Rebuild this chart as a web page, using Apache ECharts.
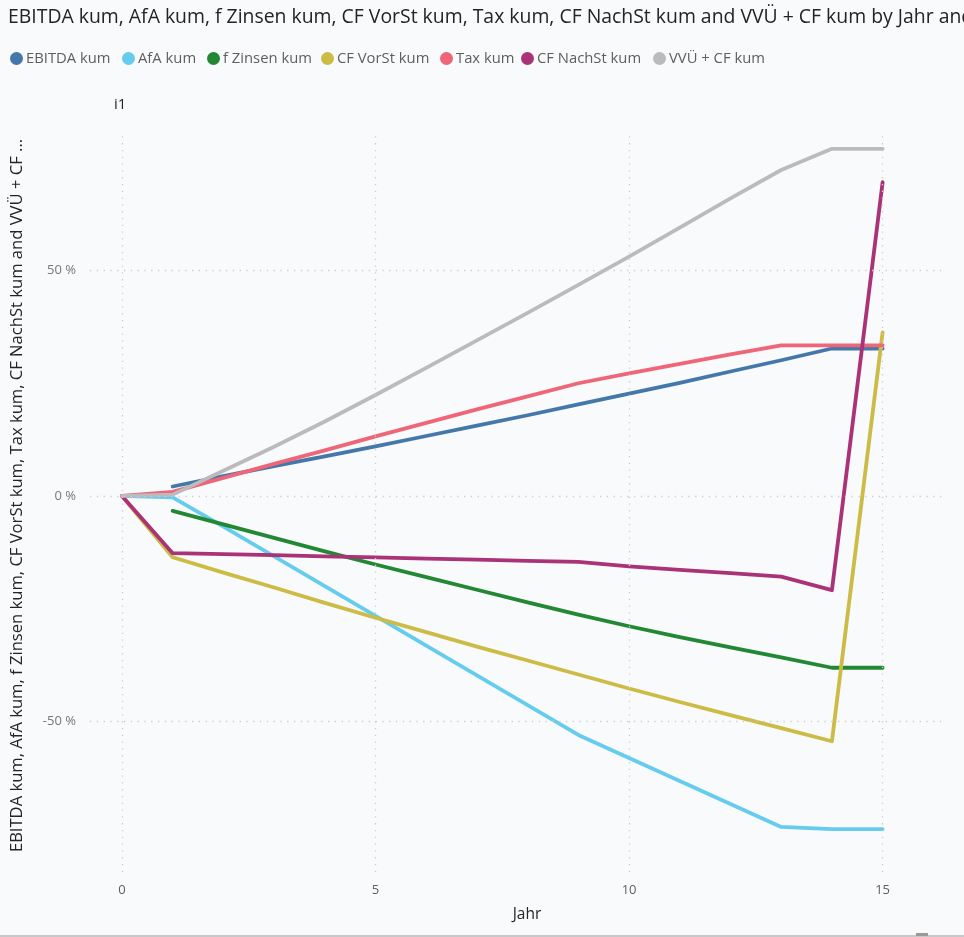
<!DOCTYPE html>
<html>
<head>
<meta charset="utf-8">
<script src="https://cdn.jsdelivr.net/npm/echarts@6/dist/echarts.min.js"></script>
<style>
  html, body { margin: 0; padding: 0; background: #F9FAFC; }
  #chart { width: 964px; height: 937px; }
</style>
</head>
<body>
<div id="chart"></div>
<script>
// ---- data ----
const years = [0, 1, 2, 3, 4, 5, 6, 7, 8, 9, 10, 11, 12, 13, 14, 15];
const seriesNames = ['EBITDA kum', 'AfA kum', 'f Zinsen kum', 'CF VorSt kum', 'Tax kum', 'CF NachSt kum', 'VVÜ + CF kum'];
const ebitda = [null, 2.1, 4.4, 6.6, 8.8, 11.0, 13.3, 15.6, 17.9, 20.3, 22.7, 25.1, 27.6, 30.1, 32.7, 32.7];
const afa    = [0, -0.3, -6.8, -13.4, -20.0, -26.6, -33.2, -39.8, -46.4, -53.0, -58.1, -63.2, -68.3, -73.4, -73.9, -73.9];
const zinsen = [null, -3.3, -6.3, -9.3, -12.3, -15.2, -18.0, -20.8, -23.6, -26.3, -28.9, -31.3, -33.6, -35.8, -38.1, -38.1];
const vorst  = [0, -13.6, -17.0, -20.3, -23.7, -27.0, -30.2, -33.4, -36.5, -39.6, -42.7, -45.7, -48.6, -51.5, -54.4, 36.3];
const tax    = [0, 0.9, 4.0, 7.1, 10.1, 13.2, 16.2, 19.2, 22.1, 25.0, 27.2, 29.3, 31.4, 33.4, 33.4, 33.4];
const nachst = [0, -12.7, -12.9, -13.1, -13.4, -13.6, -13.9, -14.1, -14.4, -14.6, -15.6, -16.4, -17.1, -17.9, -20.9, 69.6];
const vvue   = [0, 0.3, 5.6, 10.9, 16.5, 22.4, 28.4, 34.5, 40.6, 46.8, 53.1, 59.5, 66.0, 72.3, 77.0, 77.0];
const xTicks = [0, 5, 10, 15];
const yTicks = [-50, 0, 50];

// ---- styling ----
const colors = ['#4477AA', '#66CCEE', '#228833', '#CCBB44', '#EE6677', '#AA3377', '#BBBBBB'];
const legendLeft = [10, 122, 207, 321, 440, 521, 653];
const FONT = '"Open Sans", "Noto Sans", sans-serif';
const allValues = [ebitda, afa, zinsen, vorst, tax, nachst, vvue];

const gridStyle = { color: '#CDCDCD', width: 1.3, type: [1.3, 5.5] };

const series = [{
  name: '_grid',
  type: 'line',
  data: [],
  silent: true,
  z: 1,
  markLine: {
    silent: true,
    symbol: ['none', 'none'],
    label: { show: false },
    animation: false,
    lineStyle: gridStyle,
    emphasis: { disabled: true },
    data: xTicks.map(v => ({ xAxis: v })).concat(yTicks.map(v => ({ yAxis: v })))
  }
}];
seriesNames.forEach((n, i) => {
  series.push({
    name: n,
    type: 'line',
    z: 3,
    showSymbol: false,
    symbol: 'none',
    connectNulls: false,
    lineStyle: { width: 3.8, color: colors[i], cap: 'round', join: 'round' },
    itemStyle: { color: colors[i] },
    data: years.map((y, k) => [y, allValues[i][k]]),
    animation: false
  });
});

const legends = seriesNames.map((n, i) => ({
  data: [n],
  left: legendLeft[i],
  top: 51,
  padding: 0,
  icon: 'circle',
  itemWidth: 13,
  itemHeight: 13,
  itemGap: 0,
  textStyle: { fontFamily: FONT, fontSize: 14.8, color: '#605E5C', padding: [0, 0, 0, -2] }
}));

const chart = echarts.init(document.getElementById('chart'), null, { renderer: 'canvas' });
chart.setOption({
  backgroundColor: '#F9FAFC',
  animation: false,
  color: colors,
  title: [
    {
      text: 'EBITDA kum, AfA kum, f Zinsen kum, CF VorSt kum, Tax kum, CF NachSt kum and VVÜ + CF kum by Jahr and i1',
      left: 8, top: 8, padding: 0,
      textStyle: { fontFamily: FONT, fontSize: 19.4, fontWeight: 'normal', color: '#252423' }
    },
    {
      text: 'i1',
      left: 114, top: 97, padding: 0,
      textStyle: { fontFamily: FONT, fontSize: 15, fontWeight: 'normal', color: '#252423' }
    }
  ],
  legend: legends,
  grid: { left: 90, right: 19, top: 133, bottom: 65, containLabel: false },
  xAxis: {
    type: 'value',
    min: -0.63,
    max: 16.23,
    name: 'Jahr',
    nameLocation: 'middle',
    nameGap: 35,
    nameTextStyle: { fontFamily: FONT, fontSize: 15.5, color: '#252423', padding: [0, 0, 0, 19] },
    axisLine: { show: false },
    axisTick: { show: false },
    splitLine: { show: false },
    axisLabel: {
      customValues: xTicks,
      margin: 12,
      fontFamily: FONT, fontSize: 13, color: '#605E5C'
    }
  },
  yAxis: {
    type: 'value',
    min: -83.4,
    max: 80.5,
    name: 'EBITDA kum, AfA kum, f Zinsen kum, CF VorSt kum, Tax kum, CF NachSt kum and VVÜ + CF ...',
    nameLocation: 'middle',
    nameGap: 64,
    nameTextStyle: { fontFamily: FONT, fontSize: 16.6, color: '#252423', padding: [0, 0, 0, 14] },
    axisLine: { show: false },
    axisTick: { show: false },
    splitLine: { show: false },
    axisLabel: {
      customValues: yTicks,
      margin: 14,
      formatter: v => v + ' %',
      fontFamily: FONT, fontSize: 13, color: '#777777'
    }
  },
  graphic: [
    { type: 'rect', shape: { x: 0, y: 935, width: 964, height: 2 }, style: { fill: '#C8C8C8' }, silent: true },
    { type: 'rect', shape: { x: 916, y: 933, width: 12, height: 3 }, style: { fill: '#9A9A9A' }, silent: true }
  ],
  series: series
});
</script>
</body>
</html>
